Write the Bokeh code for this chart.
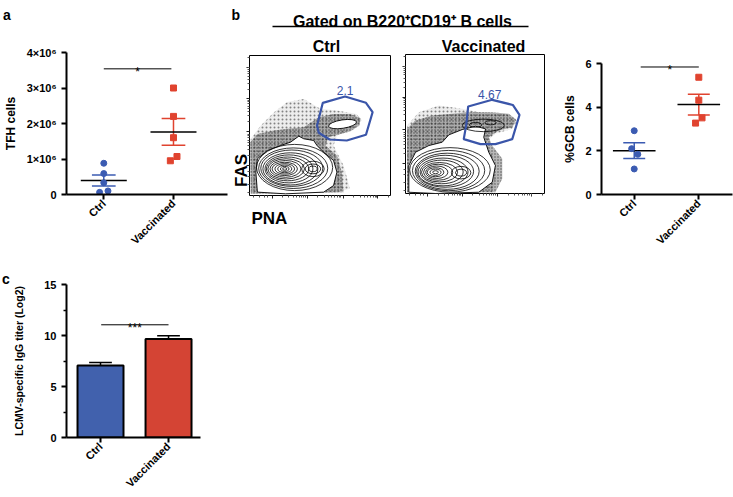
import numpy as np
from bokeh.plotting import figure
from bokeh.layouts import row, column
from bokeh.models import FixedTicker, Label, Range1d
from bokeh.embed import file_html
from bokeh.resources import INLINE

FONT = "Liberation Sans"
BLUE = "#3b5bb2"
RED = "#e0432f"
BAR_BLUE = "#4161ad"
BAR_RED = "#d44434"
GATE_BLUE = "#3a55a9"

# ---------------- data ----------------
groups = ["Ctrl", "Vaccinated"]
group_x = [1, 2]

# a: TFH cells per mouse
tfh_ctrl = [0.88e6, 0.59e6, 0.33e6, 0.10e6, 0.06e6]
tfh_vacc = [3.00e6, 2.20e6, 1.60e6, 1.07e6, 0.95e6]
tfh_ctrl_jitter = [0.0, 0.0, 0.0, 0.06, -0.06]
tfh_vacc_jitter = [0.0, 0.0, 0.0, 0.05, -0.045]
tfh_ticks = [0, 1e6, 2e6, 3e6, 4e6]
tfh_tick_labels = ["0", "1×10⁶", "2×10⁶", "3×10⁶", "4×10⁶"]
tfh_sig_y = 3.54e6
tfh_sig_text = "*"

# b: %GCB cells per mouse
gcb_ctrl = [2.92, 2.10, 1.84, 1.17]
gcb_vacc = [5.37, 4.32, 3.51, 3.27]
gcb_ctrl_jitter = [0.0, -0.04, 0.055, 0.0]
gcb_vacc_jitter = [0.0, 0.0, 0.05, -0.05]
gcb_ticks = [0, 2, 4, 6]
gcb_sig_y = 5.84
gcb_sig_text = "*"

# b: flow plots (PNA vs FAS), gate frequencies
flow_freq = ["2.1", "4.67"]
gate_ctrl_x = [52.0, 67.8, 82.6, 87.3, 82.6, 69.0, 56.8, 49.1, 47.9]
gate_ctrl_y = [66.2, 70.7, 66.2, 59.5, 43.4, 39.3, 40.0, 44.8, 50.0]
gate_vacc_x = [45.1, 62.4, 77.2, 82.0, 76.8, 64.7, 53.9, 41.9, 43.7]
gate_vacc_y = [62.6, 67.4, 63.7, 56.5, 39.1, 35.5, 35.5, 39.1, 49.4]
cloud_ctrl_x = [0.9, 0.9, 8.0, 17.4, 26.8, 38.5, 50.2, 62.0, 76.0, 79.6, 73.7, 62.0, 59.6, 66.7, 71.3, 62.0]
cloud_ctrl_y = [2.4, 40.5, 50.0, 59.5, 66.7, 69.0, 61.9, 60.7, 58.3, 53.6, 47.6, 42.9, 35.7, 21.4, 4.8, 2.4]
dense_ctrl_x = [0.9, 0.5, 5.6, 17.4, 26.8, 38.5, 49.1, 59.6, 71.4, 78.9, 78.0, 71.4, 62.0, 56.1, 53.8, 62.0, 65.5, 66.7]
dense_ctrl_y = [1.2, 38.1, 44.0, 46.4, 47.6, 48.8, 55.9, 58.3, 58.3, 55.2, 50.0, 45.7, 43.3, 41.7, 35.7, 28.6, 16.7, 2.4]
cloud_vacc_x = [1.2, 1.2, 9.6, 24.0, 40.8, 52.7, 71.9, 80.4, 76.8, 64.7, 57.6, 62.4, 64.7, 62.4]
cloud_vacc_y = [0.9, 48.9, 58.5, 63.3, 60.9, 58.5, 57.3, 52.5, 46.5, 42.9, 36.9, 27.3, 10.6, 0.9]
dense_vacc_x = [1.2, 1.2, 7.2, 19.2, 33.6, 45.5, 62.4, 74.3, 79.6, 76.8, 67.1, 59.9, 62.4, 69.6, 69.6, 64.7]
dense_vacc_y = [0.9, 46.5, 52.5, 56.1, 57.3, 58.5, 58.5, 57.3, 53.2, 47.7, 45.3, 40.5, 34.5, 25.0, 10.6, 0.9]
outer_ctrl_x = [5.6, 4.5, 5.6, 12.7, 22.0, 29.1, 35.0, 38.5, 45.5, 47.9, 52.6, 59.6, 62.0, 59.6, 52.6, 25.6]
outer_ctrl_y = [2.4, 16.7, 26.2, 32.1, 35.7, 38.1, 42.4, 40.5, 39.3, 35.7, 30.9, 25.0, 16.7, 7.1, 2.4, 1.2]
outer_vacc_x = [2.4, 2.4, 7.2, 16.8, 26.4, 31.2, 40.8, 50.4, 57.6, 56.3, 59.9, 64.7, 62.4, 52.7, 21.6]
outer_vacc_y = [0.9, 20.1, 29.7, 34.5, 36.9, 42.2, 46.0, 48.4, 46.5, 40.5, 29.7, 20.1, 8.1, 0.9, 0.0]
cont_ctrl_x = [32, 31, 30, 29, 28, 27, 26, 25.5, 25, 25, 25, 25, 25, 45, 45, 45]
cont_ctrl_y = [20, 19.5, 19.5, 19, 19, 19, 19, 19, 19, 19, 19, 19, 19, 19, 19, 19]
cont_ctrl_w = [54, 49, 44, 39, 34, 30, 26, 22, 18, 14, 10, 6, 3, 16, 11, 6]
cont_ctrl_h = [33, 29, 26, 23, 20, 17, 14.5, 12, 9.5, 7.5, 5.5, 3.5, 1.8, 11, 7, 4]
cont_vacc_x = [32, 31, 30, 28.5, 27, 26, 24.5, 23.5, 22.5, 21.6, 21.6, 21.6, 40, 40, 50.4, 61.2, 56]
cont_vacc_y = [17, 16.5, 16, 16, 15.5, 15.5, 15.3, 15.3, 15.3, 15.3, 15.3, 15.3, 15, 15, 49.4, 50.9, 49]
cont_vacc_w = [58, 52, 46, 41, 36, 31, 26, 21, 16, 12, 8, 4, 14, 8, 9, 8, 30]
cont_vacc_h = [32, 29, 26, 23, 20, 17, 14, 11.5, 9, 6.5, 4.5, 2.2, 9, 5, 3.5, 3, 9]
hole_ctrl_x, hole_ctrl_y, hole_ctrl_w, hole_ctrl_h = [66], [51], [20], [6]
flow_x_major = [16, 41, 66.5, 91]
flow_y_major = [21.4, 45.7, 69, 91.7]

# c: LCMV-specific IgG titer (log2)
titer_mean = [7.05, 9.65]
titer_sem = [0.30, 0.32]
titer_ticks = [0, 5, 10, 15]
titer_minor = [2.5, 7.5, 12.5]
titer_sig_y = 11.05
titer_sig_text = "***"


# ---------------- helpers ----------------
def mean_sem(v):
    v = np.asarray(v, dtype=float)
    return v.mean(), v.std(ddof=1) / np.sqrt(len(v))


def base_fig(width, height, xr, yr, left, right, top, bottom, **kw):
    p = figure(width=width, height=height, x_range=Range1d(*xr), y_range=Range1d(*yr),
               output_backend="svg", toolbar_location=None,
               min_border_left=left, min_border_right=right,
               min_border_top=top, min_border_bottom=bottom, **kw)
    p.grid.visible = False
    p.outline_line_color = None
    p.background_fill_color = "white"
    p.border_fill_color = "white"
    return p


def text_strip(x0, x1, y0, y1):
    """A text-only canvas whose coordinates are page pixels."""
    p = figure(width=x1 - x0, height=y1 - y0, x_range=Range1d(x0, x1), y_range=Range1d(y1, y0),
               x_axis_location=None, y_axis_location=None, output_backend="svg",
               toolbar_location=None, min_border=0)
    p.grid.visible = False
    p.outline_line_color = None
    return p


def add_text(p, x, y, text, size, bold=True, align="left", angle=0.0, color="black"):
    p.add_layout(Label(x=x, y=y, text=text, text_font=FONT, text_font_size=size,
                       text_font_style="bold" if bold else "normal", text_align=align,
                       text_baseline="alphabetic", angle=angle, text_color=color))


def style_axes(p, ylabel, ylabel_size="12px", label_standoff=4):
    for ax in p.axis:
        ax.axis_line_width = 2
        ax.axis_line_color = "black"
        ax.major_tick_line_width = 2
        ax.major_tick_line_color = "black"
        ax.major_tick_out = 5
        ax.major_tick_in = 0
        ax.minor_tick_line_color = None
        ax.major_label_text_font = FONT
        ax.major_label_text_font_style = "bold"
        ax.major_label_text_font_size = "11px"
        ax.major_label_text_color = "black"
        ax.axis_label_text_font = FONT
        ax.axis_label_text_font_style = "bold"
        ax.axis_label_text_color = "black"
    p.xaxis.ticker = FixedTicker(ticks=group_x)
    p.xaxis.major_label_overrides = {gx: g for gx, g in zip(group_x, groups)}
    p.xaxis.major_label_orientation = np.pi / 4
    p.xaxis.major_label_standoff = 2
    p.yaxis.major_label_standoff = 5
    p.yaxis.axis_label = ylabel
    p.yaxis.axis_label_text_font_size = ylabel_size
    p.yaxis.axis_label_standoff = label_standoff


def sig_bar(p, x0, x1, y, text, size="12px"):
    p.segment(x0=[x0], y0=[y], x1=[x1], y1=[y], line_color="black", line_width=1)
    p.add_layout(Label(x=(x0 + x1) / 2, y=y, text=text, text_font=FONT,
                       text_font_size=size, text_align="center",
                       text_baseline="alphabetic", y_offset=-3, text_color="black"))


def dot_panel(p, ctrl, vacc, jc, jv):
    for gx, vals, col in ((1, ctrl, BLUE), (2, vacc, RED)):
        m, s = mean_sem(vals)
        p.segment(x0=[gx, gx - 0.17, gx - 0.17], y0=[m - s, m - s, m + s],
                  x1=[gx, gx + 0.17, gx + 0.17], y1=[m + s, m - s, m + s],
                  line_color=col, line_width=1.5)
        p.segment(x0=[gx - 0.33], y0=[m], x1=[gx + 0.33], y1=[m],
                  line_color="black", line_width=1.5)
    p.scatter(np.array(jc) + 1, ctrl, marker="circle", size=6, color=BLUE)
    p.scatter(np.array(jv) + 2, vacc, marker="square", size=6, color=RED)


# ---------------- panel a ----------------
strip_a = text_strip(0, 228, 0, 24)
add_text(strip_a, 2.5, 14.5, "a", "14px")

fa = base_fig(228, 234, (0.465, 2.775), (0, 4e6), 63, 1, 28, 64)
style_axes(fa, "TFH cells", "12px", 6)
fa.yaxis.ticker = FixedTicker(ticks=tfh_ticks)
fa.yaxis.major_label_overrides = {t: l for t, l in zip(tfh_ticks, tfh_tick_labels)}
dot_panel(fa, tfh_ctrl, tfh_vacc, tfh_ctrl_jitter, tfh_vacc_jitter)
sig_bar(fa, 1.0, 1.97, tfh_sig_y, tfh_sig_text)
col_a = column(row(strip_a), fa)


# ---------------- panel b: flow plots ----------------
hdr = text_strip(228, 560, 0, 53)
add_text(hdr, 231, 14.5, "b", "14px")
add_text(hdr, 402, 20.5, "Gated on B220⁺CD19⁺ B cells", "16px", align="center")
hdr.segment(x0=[272], y0=[26], x1=[528], y1=[26], line_color="black", line_width=1.5)
for gx, g in zip([326, 483], groups):
    add_text(hdr, gx, 45.5, g, "16px", align="center")

pna_strip = text_strip(228, 560, 200, 258)
add_text(pna_strip, 251, 218, "PNA", "17px")


def log_minor(majors, step):
    out = []
    for d in majors:
        for k in range(2, 10):
            t = d + step * np.log10(k)
            if t < 100:
                out.append(t)
    return out


def flow_fig(width, height, left, right, top, bottom):
    p = figure(width=width, height=height, x_range=Range1d(0, 100), y_range=Range1d(0, 100),
               output_backend="svg", toolbar_location=None,
               min_border_left=left, min_border_right=right,
               min_border_top=top, min_border_bottom=bottom)
    p.grid.visible = False
    p.outline_line_color = "black"
    p.outline_line_width = 1
    p.outline_line_alpha = 1
    p.xaxis.ticker = FixedTicker(ticks=flow_x_major,
                                 minor_ticks=[3, 7, 10.5, 13] + log_minor(flow_x_major, 25))
    p.yaxis.ticker = FixedTicker(ticks=flow_y_major,
                                 minor_ticks=[2.5, 8, 13.5, 17.5] + log_minor(flow_y_major, 23.4))
    for ax in p.axis:
        ax.axis_line_color = None
        ax.major_label_text_color = None
        ax.major_label_text_font_size = "1px"
        ax.major_label_standoff = 0
        ax.major_tick_out = 3
        ax.major_tick_in = 0
        ax.minor_tick_out = 2
        ax.minor_tick_in = 0
        ax.major_tick_line_color = "#222222"
        ax.minor_tick_line_color = "#555555"
    return p


def draw_flow(p, cx, cy, dx, dy, ox, oy, ex, ey, ew, eh, gx, gy, freq, fx, fy):
    p.patch(cx, cy, fill_color="#000000", fill_alpha=0.07, line_color=None,
            hatch_pattern="dot", hatch_color="black", hatch_scale=4, hatch_weight=0.5,
            hatch_alpha=0.45)
    p.patch(dx, dy, fill_color="#000000", fill_alpha=0.28, line_color=None,
            hatch_pattern="dot", hatch_color="black", hatch_scale=3, hatch_weight=0.5,
            hatch_alpha=0.55)
    p.patch(ox, oy, fill_color="white", line_color="black", line_width=0.9)
    p.ellipse(ex, ey, width=ew, height=eh, fill_color=None, line_color="black",
              line_width=0.8)
    p.patch(gx + gx[:1], gy + gy[:1], fill_color=None, line_color=GATE_BLUE, line_width=2.2)
    p.add_layout(Label(x=fx, y=fy, text=freq, text_font=FONT, text_font_size="12px",
                       text_color=GATE_BLUE, text_align="center", text_baseline="alphabetic"))


fb1 = flow_fig(169, 147, 20, 7, 2, 5)
draw_flow(fb1, cloud_ctrl_x, cloud_ctrl_y, dense_ctrl_x, dense_ctrl_y,
          outer_ctrl_x, outer_ctrl_y, cont_ctrl_x, cont_ctrl_y, cont_ctrl_w, cont_ctrl_h,
          gate_ctrl_x, gate_ctrl_y, flow_freq[0], 67.8, 75.0)
fb1.ellipse(hole_ctrl_x, hole_ctrl_y, width=hole_ctrl_w, height=hole_ctrl_h,
            angle=0.15, fill_color="white", line_color="black", line_width=0.9)
# FAS axis title sits in the lower part of the axis, as in the original
yax = fb1.yaxis[0]
yax.axis_label = "FAS" + "\u00a0" * 19
yax.axis_label_text_font = FONT
yax.axis_label_text_font_style = "bold"
yax.axis_label_text_font_size = "17px"
yax.axis_label_text_color = "black"
yax.axis_label_standoff = -4

fb2 = flow_fig(163, 147, 8, 16, 1, 7)
draw_flow(fb2, cloud_vacc_x, cloud_vacc_y, dense_vacc_x, dense_vacc_y,
          outer_vacc_x, outer_vacc_y, cont_vacc_x, cont_vacc_y, cont_vacc_w, cont_vacc_h,
          gate_vacc_x, gate_vacc_y, flow_freq[1], 60.6, 71.5)

col_b = column(row(hdr), row(column(fb1), column(fb2)), row(pna_strip))


# ---------------- panel b: %GCB ----------------
fg = base_fig(173, 258, (0.493, 2.522), (0, 6), 36, 1, 63, 64)
style_axes(fg, "%GCB cells", "12px", 5)
fg.yaxis.ticker = FixedTicker(ticks=gcb_ticks)
dot_panel(fg, gcb_ctrl, gcb_vacc, gcb_ctrl_jitter, gcb_vacc_jitter)
sig_bar(fg, 1.1, 2.0, gcb_sig_y, gcb_sig_text)


# ---------------- panel c ----------------
strip_c = text_strip(0, 10, 258, 497)
add_text(strip_c, 1.5, 278.5, "c", "14px")

fc = base_fig(250, 239, (0.5, 2.47), (0, 15), 56, 60, 26, 60)
style_axes(fc, "LCMV-specific IgG titer (Log2)", "10.5px", 16)
fc.yaxis.ticker = FixedTicker(ticks=titer_ticks, minor_ticks=titer_minor)
fc.yaxis.minor_tick_line_color = "black"
fc.yaxis.minor_tick_line_width = 1.5
fc.yaxis.minor_tick_out = 3
fc.yaxis.minor_tick_in = 0
fc.vbar(x=group_x, top=titer_mean, bottom=0, width=0.676,
        fill_color=[BAR_BLUE, BAR_RED], line_color="black", line_width=2)
for gx, m, s in zip(group_x, titer_mean, titer_sem):
    fc.segment(x0=[gx, gx - 0.167], y0=[m, m + s], x1=[gx, gx + 0.167], y1=[m + s, m + s],
               line_color="black", line_width=1.5)
sig_bar(fc, 1.01, 2.0, titer_sig_y, titer_sig_text)
col_c = row(column(strip_c), fc)

layout = column(row(col_a, col_b, column(fg)), col_c)

open("out.html", "w").write(file_html(layout, INLINE))
